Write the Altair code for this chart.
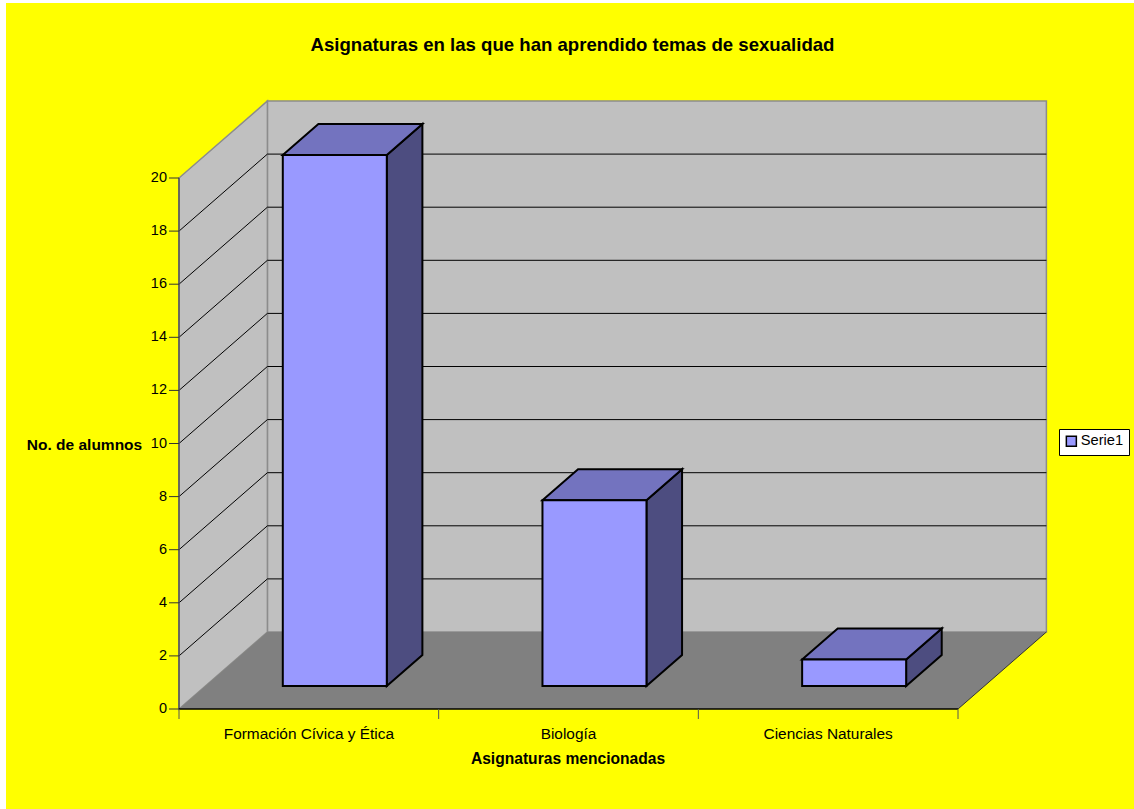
import altair as alt
import pandas as pd

# Chart values
categories = ["Formación Cívica y Ética", "Biología", "Ciencias Naturales"]
alumnos = [20, 7, 1]
y_ticks = list(range(0, 21, 2))
serie = "Serie1"

FONT = "Liberation Sans"
PANEL_W, PANEL_H = 868, 608
N = len(categories)
UNIT_X = 779 / N        # pixels per category along the front edge
UNIT_Y = 531 / 20       # pixels per student
DEPTH_X = 88.4 / UNIT_X # full floor depth, in category units
DEPTH_Y = 77 / UNIT_Y   # full floor depth, in value units
X_MAX = PANEL_W / UNIT_X
Y_MAX = PANEL_H / UNIT_Y
# Bar placement along the depth axis and inside its category slot
BAR_NEAR, BAR_FAR = 23 / 77, 54 / 77
BAR_START = (283.3 - 179.5) / UNIT_X - BAR_NEAR * DEPTH_X
BAR_WIDTH = 104 / UNIT_X

GREY_WALL = "#C0C0C0"
GREY_FLOOR = "#808080"
GREY_EDGE = "#8C8C8C"
BAR_FRONT = "#9999FF"
BAR_TOP = "#7373BF"
BAR_SIDE = "#4D4D80"

xs = alt.Scale(domain=[0, X_MAX], nice=False, zero=False)
ys = alt.Scale(domain=[0, Y_MAX], nice=False, zero=False)
X = lambda f: alt.X(f, type="quantitative", scale=xs, axis=None)
Y = lambda f: alt.Y(f, type="quantitative", scale=ys, axis=None)


def proj(cx, val, d):
    """Project a point (category position, value, depth 0..1) onto the plane."""
    return cx + d * DEPTH_X, val + d * DEPTH_Y


# Yellow sheet behind everything
sheet = alt.Chart(pd.DataFrame({"a": [0]})).mark_rect(color="#FFFF00").encode(
    x=alt.value(-173), x2=alt.value(955), y=alt.value(-98), y2=alt.value(708)
)

# Back wall
back = pd.DataFrame([{"x": proj(0, 0, 1)[0], "x2": proj(N, 0, 1)[0],
                      "y": proj(0, 0, 1)[1], "y2": proj(0, 20, 1)[1]}])
back_wall = alt.Chart(back).mark_rect(
    fill=GREY_WALL, stroke=GREY_EDGE, strokeWidth=1.5
).encode(x=X("x"), x2="x2", y=Y("y"), y2="y2")

# Side wall on the left: vertical-edged parallelogram
side_df = pd.DataFrame([
    {"x": 0, "lo": 0, "hi": 20},
    {"x": DEPTH_X, "lo": DEPTH_Y, "hi": 20 + DEPTH_Y},
])
side_wall = alt.Chart(side_df).mark_area(
    fill=GREY_WALL, stroke=GREY_EDGE, strokeWidth=1.5, orient="vertical"
).encode(x=X("x"), y=Y("lo"), y2="hi")

# Floor: horizontal-edged parallelogram
floor_df = pd.DataFrame([
    {"y": 0, "x0": 0, "x1": N},
    {"y": DEPTH_Y, "x0": DEPTH_X, "x1": N + DEPTH_X},
])
floor = alt.Chart(floor_df).mark_area(
    fill=GREY_FLOOR, orient="horizontal"
).encode(y=Y("y"), x=X("x0"), x2="x1")
floor_right = alt.Chart(pd.DataFrame({"x": [N, N + DEPTH_X], "y": [0, DEPTH_Y]})).mark_line(
    color="#333333", strokeWidth=1
).encode(x=X("x"), y=Y("y"))

# Gridlines run along the side wall and across the back wall
grid_rows = []
for v in y_ticks[1:]:
    grid_rows += [
        {"v": v, "i": 0, "x": 0, "y": v},
        {"v": v, "i": 1, "x": DEPTH_X, "y": v + DEPTH_Y},
        {"v": v, "i": 2, "x": N + DEPTH_X, "y": v + DEPTH_Y},
    ]
grid_df = pd.DataFrame(grid_rows)
grid = alt.Chart(grid_df[grid_df.v < 20]).mark_line(color="#000000", strokeWidth=1).encode(
    x=X("x"), y=Y("y"), detail="v:N", order="i:Q"
)

# Bars: side, top and front faces built from each value
side_rows, top_rows, front_rows = [], [], []
for i, (cat, val) in enumerate(zip(categories, alumnos)):
    xn0, yn0 = proj(i + BAR_START, 0, BAR_NEAR)
    xf0, yf0 = proj(i + BAR_START, 0, BAR_FAR)
    xn1, xf1 = xn0 + BAR_WIDTH, xf0 + BAR_WIDTH
    front_rows.append({"cat": cat, "serie": serie, "x": xn0, "x2": xn1, "y": yn0, "y2": yn0 + val})
    side_rows += [
        {"cat": cat, "x": xn1, "lo": yn0, "hi": yn0 + val},
        {"cat": cat, "x": xf1, "lo": yf0, "hi": yf0 + val},
    ]
    top_rows += [
        {"cat": cat, "y": yn0 + val, "x0": xn0, "x1": xn1},
        {"cat": cat, "y": yf0 + val, "x0": xf0, "x1": xf1},
    ]

bar_side = alt.Chart(pd.DataFrame(side_rows)).mark_area(
    fill=BAR_SIDE, stroke="#000000", strokeWidth=2, orient="vertical"
).encode(x=X("x"), y=Y("lo"), y2="hi", detail="cat:N")
bar_top = alt.Chart(pd.DataFrame(top_rows)).mark_area(
    fill=BAR_TOP, stroke="#000000", strokeWidth=2, orient="horizontal"
).encode(y=Y("y"), x=X("x0"), x2="x1", detail="cat:N")
bar_front = alt.Chart(pd.DataFrame(front_rows)).mark_rect(
    stroke="#000000", strokeWidth=2
).encode(
    x=X("x"), x2="x2", y=Y("y"), y2="y2",
    fill=alt.Fill(
        "serie:N",
        scale=alt.Scale(domain=[serie], range=[BAR_FRONT]),
        legend=alt.Legend(
            title=None, orient="none", legendX=880, legendY=328,
            fillColor="#FFFFFF", strokeColor="#000000", padding=5,
            symbolType="square", symbolSize=100, symbolStrokeColor="#000000",
            symbolStrokeWidth=1.5, labelFont=FONT, labelFontSize=14.7,
            labelColor="#000000", labelOffset=2,
        ),
    ),
)

# Value axis ticks and labels on the front-left edge
tick_frame = pd.DataFrame({"v": y_ticks})
y_tick_marks = alt.Chart(tick_frame).mark_rule(color="#333333", strokeWidth=1).encode(
    y=Y("v"), x=alt.value(-10), x2=alt.value(0)
)
y_tick_labels = alt.Chart(tick_frame).mark_text(
    font=FONT, fontSize=14.5, color="#000000", align="right", baseline="middle"
).encode(y=Y("v"), x=alt.value(-12), text="v:Q")

left_edge = alt.Chart(pd.DataFrame({"x": [0, 0], "y": [0, 20]})).mark_line(
    color="#555555", strokeWidth=1.5
).encode(x=X("x"), y=Y("y"))
bottom_edge = alt.Chart(pd.DataFrame({"x": [0, N], "y": [0, 0]})).mark_line(
    color="#000000", strokeWidth=1.5
).encode(x=X("x"), y=Y("y"))

# Category axis along the bottom
x_ticks = alt.Chart(pd.DataFrame({"x": list(range(N + 1))})).mark_rule(
    color="#555555", strokeWidth=1
).encode(x=X("x"), y=alt.value(PANEL_H), y2=alt.value(PANEL_H + 10))

label_df = pd.DataFrame({"cat": categories, "x": [i + 0.5 for i in range(N)]})
x_labels = alt.Chart(label_df).mark_text(
    font=FONT, fontSize=15.4, color="#000000", baseline="middle"
).encode(x=X("x"), y=alt.value(PANEL_H + 25), text="cat:N")


# Titles
def caption(txt, px, py, size):
    return alt.Chart(pd.DataFrame({"t": [txt]})).mark_text(
        font=FONT, fontSize=size, fontWeight="bold", color="#000000", baseline="middle"
    ).encode(x=alt.value(px), y=alt.value(py), text="t:N")


title = caption("Asignaturas en las que han aprendido temas de sexualidad", 393.5, -56, 18.6)
x_title = caption("Asignaturas mencionadas", 389, 658, 15.6)
y_title = caption("No. de alumnos", -94.5, 344, 15.5)

chart = alt.layer(
    sheet, back_wall, side_wall, floor, grid, floor_right,
    bar_side, bar_top, bar_front, left_edge, bottom_edge, x_ticks,
    y_tick_marks, y_tick_labels, x_labels, title, x_title, y_title,
).properties(
    width=PANEL_W,
    height=PANEL_H,
    background="#FFFFFF",
    padding={"left": 179, "top": 101, "right": 87, "bottom": 100},
    autosize=alt.AutoSizeParams(type="none"),
).configure_view(stroke=None)

chart.save("out.html", embed_options={"renderer": "svg", "actions": False})
